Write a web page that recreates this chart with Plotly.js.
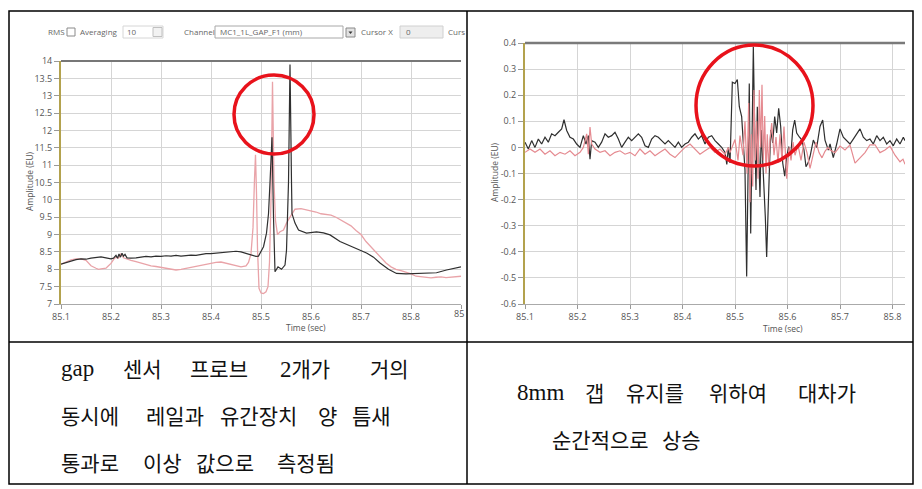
<!DOCTYPE html>
<html>
<head>
<meta charset="utf-8">
<script src="https://cdn.plot.ly/plotly-3.0.1.min.js"></script>
<style>html,body{margin:0;padding:0;background:#fff;}#chart{width:922px;height:489px;}</style>
</head>
<body>
<div id="chart"></div>
<script>
// ---------- Left chart data (gap sensor, mm) ----------
const leftPinkT = [85.1,85.11,85.12,85.13,85.14,85.15,85.155,85.16,85.17,85.175,85.18,85.19,85.195,85.2,85.205,85.21,85.215,85.22,85.225,85.23,85.24,85.25,85.26,85.27,85.28,85.29,85.3,85.31,85.32,85.33,85.34,85.35,85.36,85.37,85.38,85.39,85.4,85.41,85.42,85.43,85.44,85.45,85.46,85.47,85.475,85.48,85.484,85.487,85.489,85.491,85.493,85.496,85.5,85.505,85.51,85.514,85.517,85.52,85.523,85.526,85.529,85.533,85.538,85.545,85.551,85.558,85.568,85.58,85.59,85.6,85.61,85.62,85.63,85.64,85.65,85.66,85.67,85.68,85.69,85.7,85.71,85.72,85.73,85.74,85.75,85.76,85.77,85.78,85.79,85.8,85.81,85.82,85.83,85.84,85.85,85.86,85.87,85.88,85.89,85.9];
const leftPinkV = [8.15,8.22,8.27,8.3,8.3,8.26,8.18,8.1,8.03,8.0,8.01,8.03,8.1,8.17,8.28,8.35,8.32,8.45,8.33,8.3,8.26,8.22,8.18,8.13,8.1,8.08,8.05,8.04,8.01,7.98,8.0,8.03,8.06,8.09,8.12,8.15,8.17,8.2,8.21,8.18,8.15,8.1,8.07,8.1,8.2,8.45,9.2,10.6,11.3,10.2,8.6,7.45,7.32,7.3,7.35,7.5,8.2,10.0,13.4,10.5,9.4,9.0,9.08,9.13,9.33,9.5,9.73,9.75,9.72,9.7,9.65,9.6,9.58,9.56,9.5,9.42,9.35,9.25,9.12,9.0,8.8,8.65,8.48,8.32,8.18,8.07,8.0,7.96,7.92,7.87,7.8,7.78,7.76,7.75,7.77,7.78,7.76,7.78,7.8,7.8];
const leftBlackT = [85.1,85.11,85.12,85.13,85.14,85.15,85.16,85.17,85.18,85.19,85.2,85.205,85.21,85.213,85.216,85.219,85.222,85.225,85.228,85.232,85.24,85.25,85.26,85.27,85.28,85.29,85.3,85.31,85.32,85.33,85.34,85.35,85.36,85.37,85.38,85.39,85.4,85.41,85.42,85.43,85.44,85.45,85.46,85.47,85.48,85.49,85.495,85.5,85.505,85.511,85.515,85.518,85.522,85.525,85.528,85.534,85.541,85.548,85.551,85.555,85.558,85.561,85.562,85.568,85.575,85.591,85.611,85.625,85.638,85.658,85.685,85.711,85.725,85.738,85.755,85.771,85.79,85.811,85.83,85.851,85.871,85.885,85.9];
const leftBlackV = [8.15,8.2,8.25,8.28,8.3,8.29,8.32,8.34,8.36,8.33,8.3,8.32,8.4,8.32,8.44,8.35,8.46,8.38,8.43,8.33,8.32,8.33,8.36,8.37,8.36,8.38,8.37,8.39,8.38,8.4,8.38,8.4,8.41,8.4,8.43,8.45,8.45,8.46,8.47,8.48,8.5,8.52,8.5,8.45,8.4,8.37,8.38,8.5,8.65,9.04,9.6,10.5,11.8,9.5,7.93,8.07,8.0,8.12,8.55,10.5,13.9,10.5,9.6,9.33,9.13,9.04,9.08,9.05,8.99,8.8,8.62,8.47,8.35,8.18,8.0,7.88,7.87,7.88,7.9,7.9,7.98,8.02,8.07];
const leftXTicks = [85.1,85.2,85.3,85.4,85.5,85.6,85.7,85.8,85.9];
const leftXTickText = ["85.1","85.2","85.3","85.4","85.5","85.6","85.7","85.8",""];
const leftLastTickCut = "85";

// ---------- Right chart data (amplitude) ----------
const rightBlackT = [85.1,85.1063,85.1127,85.119,85.1254,85.1317,85.1381,85.1444,85.1508,85.1571,85.1635,85.1698,85.1743,85.1794,85.1857,85.1921,85.1984,85.2048,85.2111,85.2162,85.2206,85.2238,85.227,85.2333,85.2397,85.246,85.2524,85.2587,85.2651,85.2714,85.2778,85.2841,85.2905,85.2968,85.3032,85.3095,85.3159,85.3222,85.3286,85.3349,85.3413,85.3476,85.354,85.3603,85.3667,85.373,85.3794,85.3857,85.3921,85.3984,85.4048,85.4111,85.4175,85.4238,85.4302,85.4365,85.4429,85.4492,85.4556,85.4619,85.4683,85.4746,85.481,85.4844,85.4873,85.4905,85.4949,85.5,85.5044,85.5082,85.5127,85.5158,85.519,85.5222,85.5248,85.5272,85.5299,85.5324,85.5349,85.5375,85.54,85.5425,85.5451,85.5476,85.55,85.5539,85.5577,85.5603,85.5629,85.5653,85.568,85.5718,85.5756,85.5794,85.5832,85.587,85.5909,85.5947,85.5985,85.6023,85.6061,85.6099,85.6137,85.6175,85.6225,85.6276,85.6314,85.6352,85.639,85.6429,85.6492,85.6556,85.6619,85.667,85.6714,85.6777,85.681,85.6872,85.6937,85.7,85.7063,85.7128,85.719,85.7253,85.7349,85.7381,85.7444,85.7509,85.7571,85.7634,85.7699,85.7762,85.7825,85.789,85.7952,85.8015,85.808,85.8143,85.8206,85.8238];
const rightBlackV = [0.02,-0.006,0.026,0.0,0.032,0.013,0.039,0.02,0.052,0.045,0.058,0.071,0.106,0.065,0.039,0.032,0.013,0.0,0.045,0.013,0.045,-0.045,0.026,0.02,0.0,0.02,0.052,0.039,0.045,0.058,0.032,0.0,0.02,0.039,0.026,0.039,0.052,0.039,0.006,0.0,0.032,0.045,0.039,0.026,0.013,0.026,0.013,0.0,0.02,0.0,0.013,0.02,0.039,0.052,0.032,0.045,0.013,0.039,0.045,0.026,0.013,0.0,-0.019,-0.065,0.0,-0.06,0.25,0.245,0.26,0.156,0.118,0.003,-0.087,-0.495,-0.19,0.245,-0.33,0.13,0.386,0.067,-0.163,0.156,-0.01,-0.19,0.067,-0.087,-0.265,-0.42,-0.19,-0.1,0.067,0.017,0.118,0.055,0.15,0.08,-0.06,-0.11,-0.035,0.003,-0.035,0.067,0.105,0.055,0.04,0.028,-0.01,-0.074,-0.06,-0.035,0.028,0.0,0.08,0.105,0.028,-0.01,0.013,-0.039,0.013,0.071,0.039,0.026,0.013,0.032,0.058,0.071,0.039,0.026,0.032,0.013,0.045,0.026,0.039,0.013,0.026,0.006,0.032,0.013,0.039,0.026];
const rightPinkT = [85.1,85.1095,85.119,85.1286,85.1381,85.1476,85.1571,85.1667,85.1762,85.1857,85.1952,85.2048,85.2111,85.2175,85.2206,85.2238,85.227,85.2333,85.2429,85.2524,85.2619,85.2714,85.281,85.2905,85.3,85.3095,85.319,85.3286,85.3381,85.3476,85.3571,85.3667,85.3762,85.3857,85.3952,85.4048,85.4143,85.4238,85.4333,85.4429,85.4524,85.4619,85.4714,85.481,85.4873,85.4905,85.5,85.5057,85.5095,85.5152,85.519,85.5229,85.526,85.5286,85.531,85.5337,85.5362,85.5387,85.5413,85.5438,85.5463,85.549,85.5514,85.5539,85.5566,85.559,85.5615,85.5642,85.5667,85.5699,85.5743,85.5781,85.5819,85.5857,85.5895,85.5933,85.5985,85.6029,85.6067,85.6105,85.6143,85.62,85.6257,85.6314,85.6371,85.6429,85.6486,85.6543,85.66,85.6657,85.6714,85.6771,85.681,85.6905,85.7,85.7095,85.719,85.7286,85.7381,85.7476,85.7571,85.7667,85.7762,85.7857,85.7952,85.8048,85.8143,85.82,85.8238];
const rightPinkV = [-0.019,-0.006,-0.019,-0.006,-0.026,-0.013,-0.032,-0.019,-0.026,-0.013,-0.032,-0.019,0.0,0.052,-0.026,0.078,0.013,-0.006,-0.019,-0.013,-0.032,-0.019,-0.013,-0.026,-0.019,-0.032,-0.006,-0.026,-0.013,-0.032,-0.019,-0.006,-0.026,-0.039,-0.019,0.0,0.013,-0.006,-0.026,-0.013,0.0,-0.019,-0.006,-0.026,0.0,-0.02,0.03,-0.05,0.045,-0.03,0.1,-0.1,0.17,-0.21,0.05,-0.15,0.22,-0.05,0.1,-0.12,0.22,0.0,0.24,-0.05,0.12,-0.1,0.05,-0.08,0.03,0.093,-0.03,0.04,-0.06,0.05,-0.05,0.08,-0.12,0.0,-0.05,0.02,-0.03,0.01,-0.05,0.02,-0.02,-0.08,-0.03,0.02,-0.02,-0.04,-0.015,0.0,-0.01,-0.02,0.005,-0.01,0.01,-0.06,-0.04,-0.02,0.01,0.01,-0.02,-0.01,0.005,-0.03,-0.055,-0.045,-0.065];
const rightXTicks = [85.1,85.2,85.3,85.4,85.5,85.6,85.7,85.8];
const rightYTicks = [0.4,0.3,0.2,0.1,0,-0.1,-0.2,-0.3,-0.4,-0.5,-0.6];
const rightYTickText = ["0.4","0.3","0.2","0.1","0","-0.1","-0.2","-0.3","-0.4","-0.5","-0.6"];

// ---------- Text ----------
const toolbarLabels = ["RMS","Averaging","10","Channel","MC1_1L_GAP_F1 (mm)","Cursor X","0","Curs"];
const axisTitles = {y:"Amplitude (EU)", x:"Time (sec)"};
const captionLeft = [["gap","센서","프로브","2개가","거의"],["동시에","레일과","유간장치","양","틈새"],["통과로","이상","값으로","측정됨"]];
const captionRight = [["8mm","갭","유지를","위하여","대차가"],["순간적으로","상승"]];

// ---------- helpers ----------
const W = 922, H = 489;
const px = x => x / W;
const py = y => 1 - y / H;
const tickFont = {family: "Open Sans, DejaVu Sans, sans-serif", size: 9, color: "#555"};
const gridC = "#d5d5d5";

const traces = [
  {x: leftPinkT, y: leftPinkV, xaxis: "x", yaxis: "y", mode: "lines", line: {color: "#e9a3a8", width: 1.3}, hoverinfo: "skip"},
  {x: leftBlackT, y: leftBlackV, xaxis: "x", yaxis: "y", mode: "lines", line: {color: "#2f2f2f", width: 1.2}, hoverinfo: "skip"},
  {x: rightBlackT, y: rightBlackV, xaxis: "x2", yaxis: "y2", mode: "lines", line: {color: "#2f2f2f", width: 1.2}, hoverinfo: "skip"},
  {x: rightPinkT, y: rightPinkV, xaxis: "x2", yaxis: "y2", mode: "lines", line: {color: "#e58a90", width: 1.2}, hoverinfo: "skip"}
];

const baseX = {showgrid: true, gridcolor: gridC, gridwidth: 1, zeroline: false, ticks: "outside", ticklen: 4, tickcolor: "#999", tickfont: tickFont, showline: true, linecolor: "#aaa", linewidth: 1, fixedrange: true};
const baseY = {showgrid: true, gridcolor: gridC, gridwidth: 1, zeroline: false, ticks: "outside", ticklen: 5, tickcolor: "#999", tickfont: tickFont, showline: true, linecolor: "#b3a24e", linewidth: 2, fixedrange: true};

const layout = {
  width: W, height: H,
  margin: {l: 0, r: 0, t: 0, b: 0},
  paper_bgcolor: "#fff", plot_bgcolor: "#fff",
  showlegend: false,
  xaxis: Object.assign({}, baseX, {domain: [px(61), px(461)], range: [85.1, 85.9], tickvals: leftXTicks, ticktext: leftXTickText, anchor: "y"}),
  yaxis: Object.assign({}, baseY, {domain: [py(304), py(61)], range: [7, 14], dtick: 0.5, tick0: 7, anchor: "x"}),
  xaxis2: Object.assign({}, baseX, {domain: [px(525), px(905)], range: [85.1, 85.8238], tickvals: rightXTicks, anchor: "y2"}),
  yaxis2: Object.assign({}, baseY, {domain: [py(304), py(43)], range: [-0.6, 0.4], tickvals: rightYTicks, ticktext: rightYTickText, anchor: "x2"}),
  shapes: [],
  annotations: []
};

const S = layout.shapes, A = layout.annotations;
function line(x0, y0, x1, y1, color, width) {
  S.push({type: "line", xref: "paper", yref: "paper", x0: px(x0), y0: py(y0), x1: px(x1), y1: py(y1), line: {color: color, width: width}, layer: "above"});
}
function rect(x0, y0, x1, y1, lc, fill, lw) {
  S.push({type: "rect", xref: "paper", yref: "paper", x0: px(x0), y0: py(y0), x1: px(x1), y1: py(y1), line: {color: lc, width: lw === undefined ? 1 : lw}, fillcolor: fill, layer: "above"});
}
function text(t, x, y, opts) {
  A.push(Object.assign({text: t, xref: "paper", yref: "paper", x: px(x), y: py(y), showarrow: false, xanchor: "left", yanchor: "middle", font: {family: "Open Sans, DejaVu Sans, sans-serif", size: 8, color: "#666"}}, opts || {}));
}

// plot top borders
line(61, 61, 461, 61, "#777", 2);
line(525, 43, 905, 43, "#7a7a7a", 2.5);
// cut last left tick label at the cell edge
text(leftLastTickCut, 452, 313, {font: tickFont});

// toolbar of left screenshot
rect(67, 28, 75, 36, "#8a8a8a", "#fff");
rect(123, 26, 163, 38, "#d6d6d6", "#fff");
rect(153, 27.5, 162, 36.5, "#c0c0c0", "#f2f2f2");
rect(215, 26, 343, 38, "#a8a8a8", "#fff");
rect(346, 28, 355, 37, "#8a8a8a", "#e2e2e2");
S.push({type: "path", xref: "paper", yref: "paper", path: `M ${px(348.5)} ${py(31.5)} L ${px(352.5)} ${py(31.5)} L ${px(350.5)} ${py(34)} Z`, fillcolor: "#333", line: {width: 0}, layer: "above"});
rect(400, 26, 443, 38, "#d0d0d0", "#eeeeee");
text(toolbarLabels[0], 46, 32);
text(toolbarLabels[1], 78, 32);
text(toolbarLabels[2], 125, 32);
text(toolbarLabels[3], 182, 32);
text(toolbarLabels[4], 218, 32);
text(toolbarLabels[5], 359, 32);
text(toolbarLabels[6], 404, 32);
text(toolbarLabels[7], 446, 32);

// axis titles
const titleFont = {family: "Open Sans, DejaVu Sans, sans-serif", size: 8.5, color: "#555"};
text(axisTitles.y, 30, 181, {textangle: -90, xanchor: "center", font: titleFont});
text(axisTitles.x, 306, 327, {xanchor: "center", font: titleFont});
text(axisTitles.y, 494, 172, {textangle: -90, xanchor: "center", font: titleFont});
text(axisTitles.x, 783, 328, {xanchor: "center", font: titleFont});

// red highlight circles
S.push({type: "circle", xref: "paper", yref: "paper", x0: px(234), x1: px(314), y0: py(75), y1: py(154), line: {color: "#e8121b", width: 3.5}, layer: "above"});
S.push({type: "circle", xref: "paper", yref: "paper", x0: px(696), x1: px(813), y0: py(45), y1: py(166), line: {color: "#e8121b", width: 3.5}, layer: "above"});

// table borders
rect(9, 11, 913, 484, "#000", "rgba(0,0,0,0)", 1.5);
line(467, 11, 467, 484, "#000", 1.5);
line(9, 342, 913, 342, "#000", 1.5);

// captions (Latin parts in a serif face, Hangul in Noto CJK)
const capFont = {family: "Noto Sans CJK KR, sans-serif", size: 21, color: "#111"};
const latinWrap = w => /^[0-9A-Za-z]+/.test(w) ? w.replace(/^([0-9A-Za-z]+)/, '<span style="font-family:Liberation Serif, serif;font-size:23px">$1</span>') : w;
const leftPos = [[59, 121, 188, 278, 368], [59, 144, 218, 316, 350], [59, 141, 194, 275]];
const leftY = [368, 415, 462];
captionLeft.forEach((words, i) => words.forEach((w, j) => text(latinWrap(w), leftPos[i][j], leftY[i], {font: capFont})));
const rightPos = [[515, 583, 624, 707, 796], [550, 660]];
const rightY = [392, 439];
captionRight.forEach((words, i) => words.forEach((w, j) => text(latinWrap(w), rightPos[i][j], rightY[i], {font: capFont})));

Plotly.newPlot("chart", traces, layout, {staticPlot: true, displayModeBar: false});
</script>
</body>
</html>
